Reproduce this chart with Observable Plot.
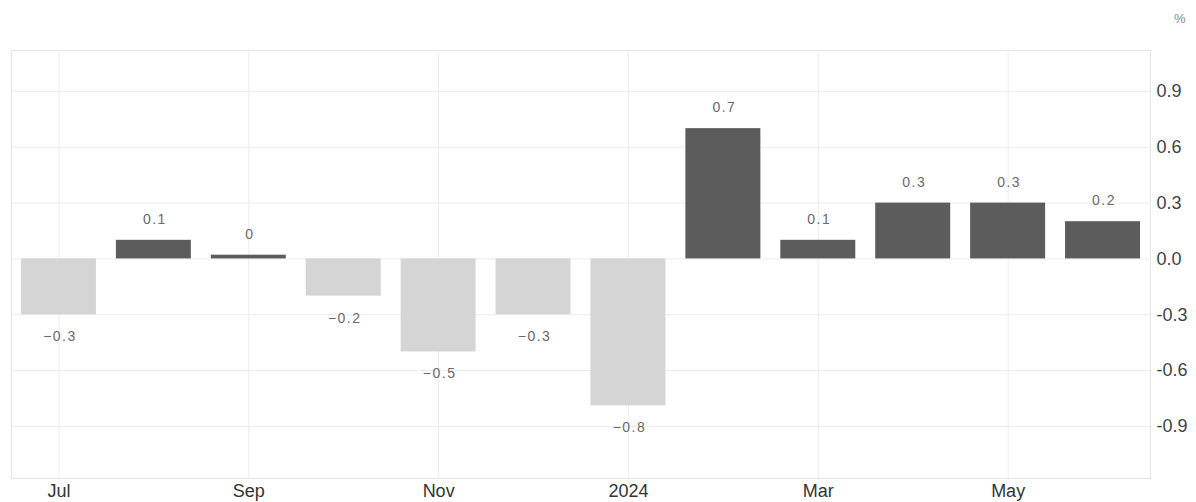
<!DOCTYPE html>
<html>
<head>
<meta charset="utf-8">
<script src="https://cdn.jsdelivr.net/npm/d3@7"></script>
<script src="https://cdn.jsdelivr.net/npm/@observablehq/plot@0.6"></script>
<style>
  html, body { margin: 0; padding: 0; background: #fff; }
  #chart svg { display: block; font-family: "Liberation Sans", Arial, sans-serif; }
  #chart svg g[aria-label="text"] text { letter-spacing: 1.5px; }
</style>
</head>
<body>
<div id="chart"></div>
<script>
const months = ["Jul","Aug","Sep","Oct","Nov","Dec","Jan","Feb","Mar","Apr","May","Jun"];
const values = [-0.3, 0.1, 0.02, -0.2, -0.5, -0.3, -0.79, 0.7, 0.1, 0.3, 0.3, 0.2];
const valueLabels = ["\u22120.3","0.1","0","\u22120.2","\u22120.5","\u22120.3","\u22120.8","0.7","0.1","0.3","0.3","0.2"];
const xTicks = ["Jul","Sep","Nov","Jan","Mar","May"];
const xTickLabels = ["Jul","Sep","Nov","2024","Mar","May"];
const yTicks = [-0.9, -0.6, -0.3, 0, 0.3, 0.6, 0.9];
const yTickLabels = ["-0.9","-0.6","-0.3","0.0","0.3","0.6","0.9"];
const unitLabel = "%";

const data = months.map((m, i) => ({m, v: values[i], label: valueLabels[i]}));

const chart = Plot.plot({
  width: 1196,
  height: 502,
  marginLeft: 11,
  marginRight: 46,
  marginTop: 50,
  marginBottom: 24,
  style: {background: "#fff", overflow: "visible"},
  x: {
    domain: months,
    paddingInner: 0.21,
    paddingOuter: 0.105,
    round: false,
    axis: null
  },
  y: {
    domain: [-1.18, 1.12],
    axis: null
  },
  marks: [
    Plot.frame({stroke: "#e4e4e4"}),
    Plot.gridY(yTicks, {stroke: "#ececec", strokeOpacity: 1}),
    Plot.gridX(xTicks, {stroke: "#ececec", strokeOpacity: 1}),
    Plot.barY(data, {x: "m", y: "v", fill: d => d.v >= 0 ? "#5c5c5c" : "#d5d5d5"}),
    Plot.text(data.filter(d => d.v >= 0), {x: "m", y: "v", text: "label", dy: -21, dx: 1, lineAnchor: "middle", fill: "#6a6a6a", fontSize: 14}),
    Plot.text(data.filter(d => d.v < 0), {x: "m", y: "v", text: "label", dy: 22, dx: 1, lineAnchor: "middle", fill: "#6a6a6a", fontSize: 14}),
    Plot.axisX(xTicks, {anchor: "bottom", tickSize: 0, tickPadding: 6, fontSize: 18, fill: "#333", tickFormat: d => xTickLabels[xTicks.indexOf(d)], label: null}),
    Plot.axisY(yTicks, {anchor: "right", tickSize: 0, tickPadding: 6, fontSize: 18, fill: "#444", tickFormat: d => yTickLabels[yTicks.indexOf(d)], label: null}),
    Plot.text([unitLabel], {frameAnchor: "top-right", dx: 30, dy: -32, textAnchor: "middle", lineAnchor: "middle", fontSize: 13, fill: "#888"})
  ]
});
document.getElementById("chart").appendChild(chart);
</script>
</body>
</html>
